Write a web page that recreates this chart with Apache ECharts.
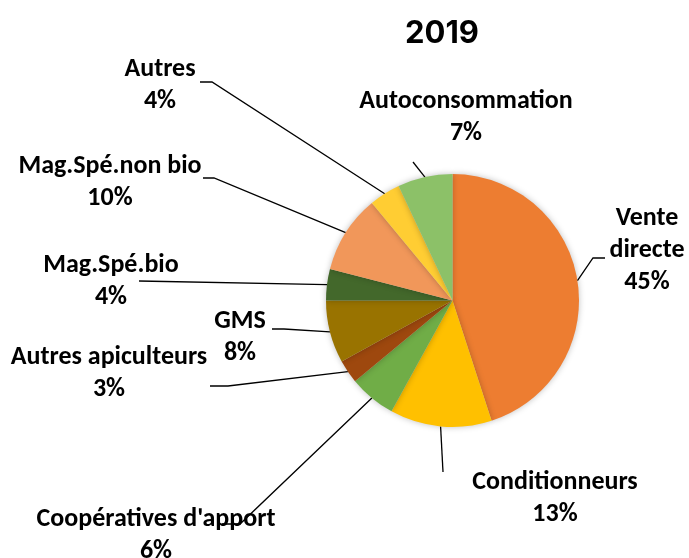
<!DOCTYPE html>
<html>
<head>
<meta charset="utf-8">
<script src="https://cdn.jsdelivr.net/npm/echarts@6/dist/echarts.min.js"></script>
<style>
  html, body { margin: 0; padding: 0; background: #fff; }
  #chart { width: 689px; height: 558px; }
</style>
</head>
<body>
<div id="chart"></div>
<script>
const categories = [
  "Vente\ndirecte",
  "Conditionneurs",
  "Coopératives d'apport",
  "Autres apiculteurs",
  "GMS",
  "Mag.Spé.bio",
  "Mag.Spé.non bio",
  "Autres",
  "Autoconsommation",
];
const shares = [45, 13, 6, 3, 8, 4, 10, 4, 7];
const colors = [
  "#ED7D31", "#FFC000", "#70AD47", "#9E480E", "#997300",
  "#43682B", "#F1975A", "#FFCD33", "#8CC168",
];

// label block centres and leader line ends (label side), Excel-like placement
const labelCenters = [
  [647, 250], [555, 498], [156, 535], [109, 373], [240, 337],
  [111, 281], [110, 182], [160, 85], [466, 117],
];
const lineEnds = [
  [[593, 258], [605, 258]],
  [[443, 472], [443, 472]],
  [[240, 524], [222, 524]],
  [[228, 386], [210, 386]],
  [[284, 329], [272, 329]],
  [[139, 281], [139, 281]],
  [[214, 178], [203, 178]],
  [[212, 82], [200, 82]],
  [[413, 162], [413, 162]],
];

const chart = echarts.init(document.getElementById("chart"));

chart.setOption({
  animation: false,
  title: {
    text: "2019",
    left: 437,
    top: 13,
    textAlign: "center",
    textStyle: {
      fontFamily: "Inter",
      fontWeight: "bold",
      fontSize: 31,
      color: "#000",
    },
  },
  series: [
    {
      type: "pie",
      center: [452.5, 300.5],
      radius: 126.5,
      startAngle: 90,
      clockwise: true,
      avoidLabelOverlap: false,
      data: categories.map((name, i) => ({
        name: name,
        value: shares[i],
        itemStyle: { color: colors[i] },
      })),
      itemStyle: {
        borderWidth: 0,
        shadowBlur: 6,
        shadowColor: "rgba(0,0,0,0.25)",
      },
      label: {
        show: true,
        position: "outside",
        formatter: (p) => p.name + "\n" + p.value + "%",
        fontFamily: "Carlito, 'Noto Sans'",
        fontWeight: "bold",
        fontSize: 26,
        lineHeight: 32,
        color: "#000",
        align: "center",
      },
      labelLine: {
        show: true,
        length: 10,
        length2: 10,
        lineStyle: { color: "#000", width: 1.3 },
      },
      labelLayout: (params) => {
        const i = params.dataIndex;
        const pts = params.labelLinePoints;
        return {
          x: labelCenters[i][0],
          y: labelCenters[i][1],
          align: "center",
          verticalAlign: "middle",
          labelLinePoints: [pts[0], lineEnds[i][0], lineEnds[i][1]],
        };
      },
    },
  ],
});
</script>
</body>
</html>
